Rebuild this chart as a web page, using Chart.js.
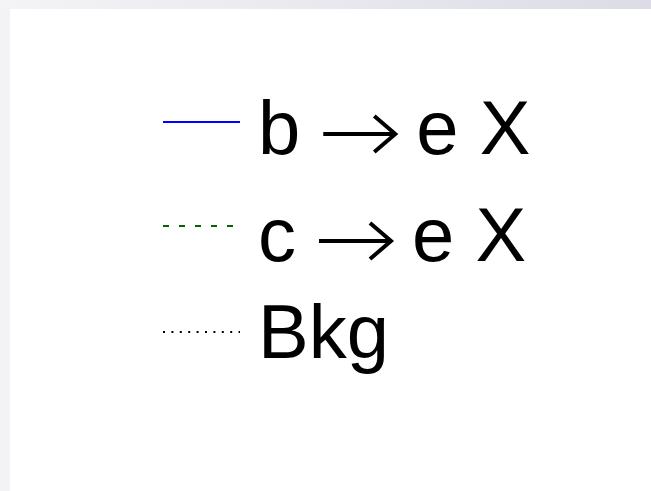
<!DOCTYPE html>
<html>
<head>
<meta charset="utf-8">
<script src="https://cdn.jsdelivr.net/npm/chart.js@4/dist/chart.umd.min.js"></script>
<style>
  html, body { margin: 0; padding: 0; background: #f3f3f5; }
  #frame { position: relative; width: 651px; height: 491px; overflow: hidden; }
  #topbar { position: absolute; left: 0; top: 0; width: 651px; height: 9px;
            background: linear-gradient(to right, #f4f4f6, #dcdce6); }
  #pad { position: absolute; left: 10px; top: 9px; width: 641px; height: 482px; background: #fff; }
</style>
</head>
<body>
<div id="frame">
  <div id="topbar"></div>
  <div id="pad"><canvas id="legendChart" width="641" height="482"></canvas></div>
</div>
<script>
// legend entries
const seriesNames = ["b \u2192 e X", "c \u2192 e X", "Bkg"];
const seriesValues = [[], [], []];

// long thin arrow, like the TLatex #rightarrow
function drawArrow(ctx, x0, x1, y) {
    ctx.beginPath();
    ctx.lineWidth = 4;
    ctx.lineCap = "butt";
    ctx.lineJoin = "miter";
    ctx.strokeStyle = "#000";
    ctx.moveTo(x0, y);
    ctx.lineTo(x1 - 2, y);
    ctx.moveTo(x1 - 21, y - 18);
    ctx.lineTo(x1, y);
    ctx.lineTo(x1 - 21, y + 18);
    ctx.stroke();
}

// draws each dataset as a legend row: line sample + label
const padLegend = {
    id: "padLegend",
    afterDraw(chart) {
        const ctx = chart.ctx;
        const rowLine = [113, 217, 323];
        const rowBase = [145, 252, 349];
        const textX = 248;
        ctx.save();
        chart.data.datasets.forEach((ds, i) => {
            ctx.beginPath();
            ctx.setLineDash(ds.borderDash || []);
            ctx.lineWidth = ds.borderWidth;
            ctx.strokeStyle = ds.borderColor;
            ctx.moveTo(153, rowLine[i]);
            ctx.lineTo(230, rowLine[i]);
            ctx.stroke();
            ctx.setLineDash([]);

            ctx.fillStyle = "#000";
            ctx.font = "76px 'Liberation Sans', Arial, sans-serif";
            ctx.textBaseline = "alphabetic";
            const parts = ds.label.split(" \u2192 ");
            ctx.fillText(parts[0], textX, rowBase[i]);
            if (parts.length > 1) {
                const a0 = textX + ctx.measureText(parts[0]).width + 23;
                const a1 = a0 + 72;
                drawArrow(ctx, a0, a1, rowBase[i] - 20);
                ctx.fillText(parts[1], a1 + 21, rowBase[i]);
            }
        });
        ctx.restore();
    }
};

const ctx = document.getElementById("legendChart").getContext("2d");
new Chart(ctx, {
    type: "line",
    data: {
        labels: [],
        datasets: [
            { label: seriesNames[0], data: seriesValues[0], borderColor: "#0000ff", borderWidth: 2 },
            { label: seriesNames[1], data: seriesValues[1], borderColor: "#006400", borderWidth: 2, borderDash: [6, 10] },
            { label: seriesNames[2], data: seriesValues[2], borderColor: "#000000", borderWidth: 2, borderDash: [2, 6.4] }
        ]
    },
    options: {
        responsive: false,
        animation: false,
        plugins: { legend: { display: false }, tooltip: { enabled: false } },
        scales: { x: { display: false }, y: { display: false } }
    },
    plugins: [padLegend]
});
</script>
</body>
</html>
